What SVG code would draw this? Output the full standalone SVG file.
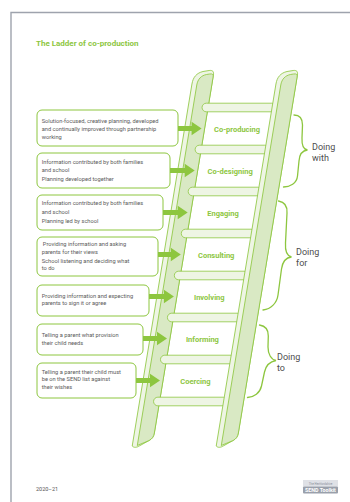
<svg xmlns="http://www.w3.org/2000/svg" width="350" height="502" viewBox="0 0 350 502">
  <style>
    .page { fill: none; stroke: #9ea3ad; stroke-width: 1.4; }
    .title { font-family: Roboto, "Liberation Sans", sans-serif; font-weight: bold; font-size: 8px; fill: #8dc63f; }
    .box { fill: #ffffff; stroke: #8dc63f; stroke-width: 1; }
    .btxt { font-family: Roboto, "Liberation Sans", sans-serif; font-size: 5.7px; fill: #5a5a5a; }
    .arrow { fill: #8dc63f; }
    .rung { fill: #eef5e4; stroke: #8dc63f; stroke-width: 0.8; }
    .rail-side { fill: #eef5e4; stroke: #8dc63f; stroke-width: 0.8; }
    .rail-face { fill: #d9e9c4; stroke: #8dc63f; stroke-width: 0.8; }
    .step { font-family: Roboto, "Liberation Sans", sans-serif; font-weight: bold; font-size: 7.5px; fill: #8dc63f; text-anchor: middle; }
    .brace { fill: none; stroke: #8dc63f; stroke-width: 1.3; stroke-linecap: round; }
    .group-txt { font-family: Roboto, "Liberation Sans", sans-serif; font-size: 9px; fill: #4d4d4d; }
    .foot { font-family: Roboto, "Liberation Sans", sans-serif; font-size: 5.5px; fill: #555555; }
  </style>
  <defs>
    <!-- one ladder rail, drawn upright; placed with a skew so it leans -->
    <g id="rail">
      <path class="rail-side" d="M0,446 L0,84 C0,77 3,73 9,71.5 L15,70.5 C18.5,70 20,71.5 20,75 L20,433 C20,437 18.5,439 16,440.5 L7,446 C5,447.5 2,448 0,446 Z"/>
      <path class="rail-face" d="M5,445.5 L5,85 C5,79 8,75.5 13,74.5 L16,74 C19,73.5 20,74.5 20,77 L20,433 C20,437 18.5,439 16,440.5 Z"/>
    </g>
  </defs>

  <!-- page frame -->
  <path class="page" d="M350,12.5 L11,12.5 L11,502"/>

  <text class="title" x="36" y="46">The Ladder of co-production</text>

  <!-- ladder -->
  <g id="ladder">
    <use href="#rail" transform="translate(205.8,0) skewX(-9.37)"/>
    <g id="rungs">
      <rect class="rung" x="202.06" y="103.2" width="74" height="8.6" rx="4.3"/>
      <rect class="rung" x="195.13" y="145.2" width="74" height="8.6" rx="4.3"/>
      <rect class="rung" x="188.2" y="187.2" width="74" height="8.6" rx="4.3"/>
      <rect class="rung" x="181.27" y="229.2" width="74" height="8.6" rx="4.3"/>
      <rect class="rung" x="174.34" y="271.2" width="74" height="8.6" rx="4.3"/>
      <rect class="rung" x="167.41" y="313.2" width="74" height="8.6" rx="4.3"/>
      <rect class="rung" x="160.48" y="355.2" width="74" height="8.6" rx="4.3"/>
      <rect class="rung" x="153.55" y="397.2" width="74" height="8.6" rx="4.3"/>
    </g>
    <use href="#rail" transform="translate(289.8,0) skewX(-9.37)"/>
  </g>

  <!-- rung labels -->
  <g id="steps">
    <text class="step" x="237" y="131.8">Co-producing</text>
    <text class="step" x="230.1" y="173.8">Co-designing</text>
    <text class="step" x="223.1" y="215.8">Engaging</text>
    <text class="step" x="216.2" y="257.8">Consulting</text>
    <text class="step" x="209.3" y="299.8">Involving</text>
    <text class="step" x="202.4" y="341.8">Informing</text>
    <text class="step" x="195.4" y="383.8">Coercing</text>
  </g>

  <!-- description boxes -->
  <g id="box-coproducing">
    <rect class="box" x="37" y="110" width="141" height="36" rx="5"/>
    <text class="btxt" x="41.7" y="122.6">Solution-focused, creative planning, developed</text>
    <text class="btxt" x="41.7" y="130.6">and continually improved through partnership</text>
    <text class="btxt" x="41.7" y="138.6">working</text>
  </g>
  <g id="box-codesigning">
    <rect class="box" x="37" y="153" width="133" height="35" rx="5"/>
    <text class="btxt" x="41.7" y="163.7">Information contributed by both families</text>
    <text class="btxt" x="41.7" y="172">and school</text>
    <text class="btxt" x="41.7" y="181">Planning developed together</text>
  </g>
  <g id="box-engaging">
    <rect class="box" x="37" y="195" width="126" height="35" rx="5"/>
    <text class="btxt" x="41.7" y="205">Information contributed by both families</text>
    <text class="btxt" x="41.7" y="213.7">and school</text>
    <text class="btxt" x="41.7" y="222.5">Planning led by school</text>
  </g>
  <g id="box-consulting">
    <rect class="box" x="37" y="237" width="121" height="39" rx="5"/>
    <text class="btxt" x="42.8" y="246">Providing information and asking</text>
    <text class="btxt" x="41.7" y="253.7">parents for their views</text>
    <text class="btxt" x="41.7" y="262.7">School listening and deciding what</text>
    <text class="btxt" x="41.7" y="270.3">to do</text>
  </g>
  <g id="box-involving">
    <rect class="box" x="37" y="285" width="112" height="31" rx="5"/>
    <text class="btxt" x="41.7" y="297.7">Providing information and expecting</text>
    <text class="btxt" x="41.7" y="305.3">parents to sign it or agree</text>
  </g>
  <g id="box-informing">
    <rect class="box" x="37" y="324" width="106" height="31" rx="5"/>
    <text class="btxt" x="41.7" y="337">Telling a parent what provision</text>
    <text class="btxt" x="41.7" y="344.7">their child needs</text>
  </g>
  <g id="box-coercing">
    <rect class="box" x="37" y="363" width="99" height="35" rx="5"/>
    <text class="btxt" x="41.7" y="373.7">Telling a parent their child must</text>
    <text class="btxt" x="41.7" y="381.3">be on the SEND list against</text>
    <text class="btxt" x="41.7" y="389.3">their wishes</text>
  </g>

  <!-- connectors: box to rung -->
  <g id="connectors">
    <polygon class="arrow" points="178,126 191.6,126 191.6,121.75 201.6,128.5 191.6,135.25 191.6,131 178,131"/>
    <polygon class="arrow" points="170,168 184.7,168 184.7,163.75 194.7,170.5 184.7,177.25 184.7,173 170,173"/>
    <polygon class="arrow" points="163,210 177.7,210 177.7,205.75 187.7,212.5 177.7,219.25 177.7,215 163,215"/>
    <polygon class="arrow" points="158,252 170.8,252 170.8,247.75 180.8,254.5 170.8,261.25 170.8,257 158,257"/>
    <polygon class="arrow" points="149,294 163.9,294 163.9,289.75 173.9,296.5 163.9,303.25 163.9,299 149,299"/>
    <polygon class="arrow" points="143,336 157,336 157,331.75 167,338.5 157,345.25 157,341 143,341"/>
    <polygon class="arrow" points="136,378 150,378 150,373.75 160,380.5 150,387.25 150,383 136,383"/>
  </g>

  <!-- grouping braces -->
  <g id="group-with">
    <path class="brace" d="M294,115 C299,115 302.5,118 302.5,125 L302,138 C301.7,145 303,149.5 307.5,150 C302.5,150.5 299.5,154 299,161 L297.5,176 C296.8,183.5 290,187 283.5,187"/>
    <text class="group-txt" x="312" y="149.5">Doing</text>
    <text class="group-txt" x="312" y="161.3">with</text>
  </g>
  <g id="group-for">
    <path class="brace" d="M278.5,201 C284.5,202 287.5,206 287,213 L285.5,243 C285,251 287,256 291.5,257 C286,257.5 282.5,262 281.5,269 L278,295 C277,303 271,309 263,310"/>
    <text class="group-txt" x="296" y="254.5">Doing</text>
    <text class="group-txt" x="296" y="266">for</text>
  </g>
  <g id="group-to">
    <path class="brace" d="M259.5,325 C265.5,326 268.5,330 268.3,336 L268,347 C268,354 271,359.5 276,360.5 C270.5,361.5 266,365 264.5,372 L261.5,386 C260,393 254,397 247.5,397.5"/>
    <text class="group-txt" x="277" y="359.5">Doing</text>
    <text class="group-txt" x="277" y="370.8">to</text>
  </g>

  <!-- footer -->
  <text class="foot" x="36" y="490.5">2020–21</text>
  <g id="logo">
    <rect x="303" y="480" width="35" height="6.5" fill="#dfe1e6"/>
    <rect x="303" y="486.5" width="35" height="7" rx="1" fill="#9aa0ab"/>
    <text x="320.5" y="484.6" font-family="Roboto, 'Liberation Sans', sans-serif" font-size="3px" fill="#8a909b" text-anchor="middle">The Hertfordshire</text>
    <text x="320.5" y="492.2" font-family="Roboto, 'Liberation Sans', sans-serif" font-size="5.3px" font-weight="bold" fill="#ffffff" text-anchor="middle">SEND Toolkit</text>
  </g>
</svg>
